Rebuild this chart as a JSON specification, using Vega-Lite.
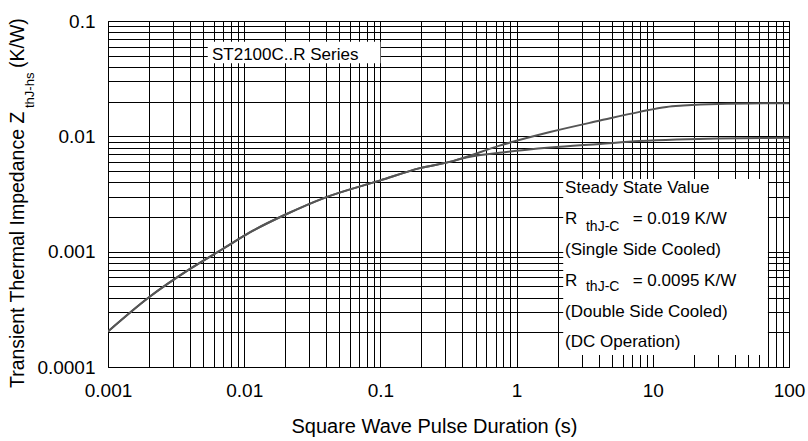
{
  "$schema": "https://vega.github.io/schema/vega-lite/v6.json",
  "width": 681,
  "height": 346,
  "autosize": {"type": "none"},
  "padding": {"left": 108, "top": 21, "right": 19, "bottom": 74},
  "background": "white",
  "config": {
    "view": {"stroke": "#000", "strokeWidth": 1},
    "font": "Liberation Sans",
    "axis": {
      "labelFont": "Liberation Sans",
      "labelFontSize": 19,
      "labelColor": "#000",
      "titleFont": "Liberation Sans",
      "titleFontWeight": "normal",
      "titleColor": "#000",
      "gridColor": "#000",
      "gridOpacity": 1,
      "gridWidth": 1,
      "ticks": false,
      "tickSize": 0,
      "domain": false,
      "labelOverlap": false,
      "labelBound": false,
      "labelFlush": false
    }
  },
  "datasets": {
    "curves": [
      {"t": 0.001, "z": 0.000203, "s": "single"},
      {"t": 0.002, "z": 0.000402, "s": "single"},
      {"t": 0.004, "z": 0.000708, "s": "single"},
      {"t": 0.007, "z": 0.00106, "s": "single"},
      {"t": 0.011, "z": 0.00147, "s": "single"},
      {"t": 0.0205, "z": 0.00212, "s": "single"},
      {"t": 0.038, "z": 0.0029, "s": "single"},
      {"t": 0.1, "z": 0.00415, "s": "single"},
      {"t": 0.195, "z": 0.0053, "s": "single"},
      {"t": 0.34, "z": 0.0061, "s": "single"},
      {"t": 0.39, "z": 0.0064, "s": "single"},
      {"t": 0.75, "z": 0.0083, "s": "single"},
      {"t": 1.76, "z": 0.0109, "s": "single"},
      {"t": 4.1, "z": 0.0137, "s": "single"},
      {"t": 8, "z": 0.0163, "s": "single"},
      {"t": 12.6, "z": 0.018, "s": "single"},
      {"t": 16.7, "z": 0.0185, "s": "single"},
      {"t": 30, "z": 0.0191, "s": "single"},
      {"t": 100, "z": 0.0194, "s": "single"},
      {"t": 0.001, "z": 0.000203, "s": "double"},
      {"t": 0.002, "z": 0.000402, "s": "double"},
      {"t": 0.004, "z": 0.000708, "s": "double"},
      {"t": 0.007, "z": 0.00106, "s": "double"},
      {"t": 0.011, "z": 0.00147, "s": "double"},
      {"t": 0.0205, "z": 0.00212, "s": "double"},
      {"t": 0.038, "z": 0.0029, "s": "double"},
      {"t": 0.1, "z": 0.00415, "s": "double"},
      {"t": 0.195, "z": 0.0053, "s": "double"},
      {"t": 0.34, "z": 0.0061, "s": "double"},
      {"t": 0.39, "z": 0.0064, "s": "double"},
      {"t": 0.75, "z": 0.0072, "s": "double"},
      {"t": 1.76, "z": 0.008, "s": "double"},
      {"t": 4.1, "z": 0.0086, "s": "double"},
      {"t": 8, "z": 0.0091, "s": "double"},
      {"t": 15, "z": 0.0094, "s": "double"},
      {"t": 30, "z": 0.0096, "s": "double"},
      {"t": 100, "z": 0.0097, "s": "double"}
    ],
    "boxes": [
      {"t1": 0.0054, "t2": 0.1, "z1": 0.043, "z2": 0.066},
      {"t1": 2.2, "t2": 70, "z1": 0.000127, "z2": 0.00427}
    ],
    "notes": [
      {"t": 0.0058, "z": 0.0507, "text": "ST2100C..R Series"},
      {"t": 2.27, "z": 0.00357, "text": "Steady State Value"},
      {"t": 2.27, "z": 0.00192, "text": "R"},
      {"t": 7.12, "z": 0.00192, "text": "= 0.019 K/W"},
      {"t": 2.27, "z": 0.00103, "text": "(Single Side Cooled)"},
      {"t": 2.27, "z": 0.000557, "text": "R"},
      {"t": 7.12, "z": 0.000557, "text": "= 0.0095 K/W"},
      {"t": 2.27, "z": 0.0003, "text": "(Double Side Cooled)"},
      {"t": 2.27, "z": 0.000165, "text": "(DC Operation)"}
    ],
    "subs": [
      {"t": 3.23, "z": 0.00165, "text": "thJ-C"},
      {"t": 3.23, "z": 0.000495, "text": "thJ-C"}
    ],
    "ytitle": [
      {"t": 0.000218, "z": 0.0000657, "text": "Transient Thermal Impedance Z"}
    ],
    "ytitleSub": [
      {"t": 0.000268, "z": 0.0176, "text": "thJ-hs"}
    ],
    "ytitleUnit": [
      {"t": 0.000218, "z": 0.0391, "text": "(K/W)"}
    ]
  },
  "layer": [
    {
      "data": {"name": "curves"},
      "mark": {"type": "line", "color": "#555555", "strokeWidth": 2, "interpolate": "monotone", "clip": true},
      "encoding": {
        "x": {
          "field": "t", "type": "quantitative",
          "scale": {"type": "log", "domain": [0.001, 100], "nice": false},
          "axis": {
            "values": [0.001,0.002,0.003,0.004,0.005,0.006,0.007,0.008,0.009,0.01,0.02,0.03,0.04,0.05,0.06,0.07,0.08,0.09,0.1,0.2,0.3,0.4,0.5,0.6,0.7,0.8,0.9,1,2,3,4,5,6,7,8,9,10,20,30,40,50,60,70,80,90,100],
            "labelExpr": "abs(log(datum.value)/LN10 - round(log(datum.value)/LN10)) < 0.001 ? format(datum.value, '~g') : ''",
            "labelPadding": 14,
            "title": "Square Wave Pulse Duration (s)",
            "titleFontSize": 20,
            "titleX": 326,
            "titleY": 65,
            "titleBaseline": "alphabetic"
          }
        },
        "y": {
          "field": "z", "type": "quantitative",
          "scale": {"type": "log", "domain": [0.0001, 0.1], "nice": false},
          "axis": {
            "values": [0.0001,0.0002,0.0003,0.0004,0.0005,0.0006,0.0007,0.0008,0.0009,0.001,0.002,0.003,0.004,0.005,0.006,0.007,0.008,0.009,0.01,0.02,0.03,0.04,0.05,0.06,0.07,0.08,0.09,0.1],
            "labelExpr": "abs(log(datum.value)/LN10 - round(log(datum.value)/LN10)) < 0.001 ? format(datum.value, '~g') : ''",
            "labelPadding": 13,
            "title": null
          }
        },
        "detail": {"field": "s"}
      }
    },
    {
      "data": {"name": "boxes"},
      "mark": {"type": "rect", "fill": "white", "stroke": null},
      "encoding": {
        "x": {"field": "t1", "type": "quantitative"},
        "x2": {"field": "t2"},
        "y": {"field": "z1", "type": "quantitative"},
        "y2": {"field": "z2"}
      }
    },
    {
      "data": {"name": "notes"},
      "mark": {"type": "text", "align": "left", "baseline": "middle", "fontSize": 17, "font": "Liberation Sans", "color": "#000"},
      "encoding": {
        "x": {"field": "t", "type": "quantitative"},
        "y": {"field": "z", "type": "quantitative"},
        "text": {"field": "text"}
      }
    },
    {
      "data": {"name": "subs"},
      "mark": {"type": "text", "align": "left", "baseline": "middle", "fontSize": 14, "font": "Liberation Sans", "color": "#000"},
      "encoding": {
        "x": {"field": "t", "type": "quantitative"},
        "y": {"field": "z", "type": "quantitative"},
        "text": {"field": "text"}
      }
    },
    {
      "data": {"name": "ytitle"},
      "mark": {"type": "text", "angle": 270, "align": "left", "baseline": "middle", "fontSize": 19.5, "font": "Liberation Sans", "color": "#000"},
      "encoding": {
        "x": {"field": "t", "type": "quantitative"},
        "y": {"field": "z", "type": "quantitative"},
        "text": {"field": "text"}
      }
    },
    {
      "data": {"name": "ytitleSub"},
      "mark": {"type": "text", "angle": 270, "align": "left", "baseline": "middle", "fontSize": 13, "font": "Liberation Sans", "color": "#000"},
      "encoding": {
        "x": {"field": "t", "type": "quantitative"},
        "y": {"field": "z", "type": "quantitative"},
        "text": {"field": "text"}
      }
    },
    {
      "data": {"name": "ytitleUnit"},
      "mark": {"type": "text", "angle": 270, "align": "left", "baseline": "middle", "fontSize": 19.5, "font": "Liberation Sans", "color": "#000"},
      "encoding": {
        "x": {"field": "t", "type": "quantitative"},
        "y": {"field": "z", "type": "quantitative"},
        "text": {"field": "text"}
      }
    }
  ]
}
